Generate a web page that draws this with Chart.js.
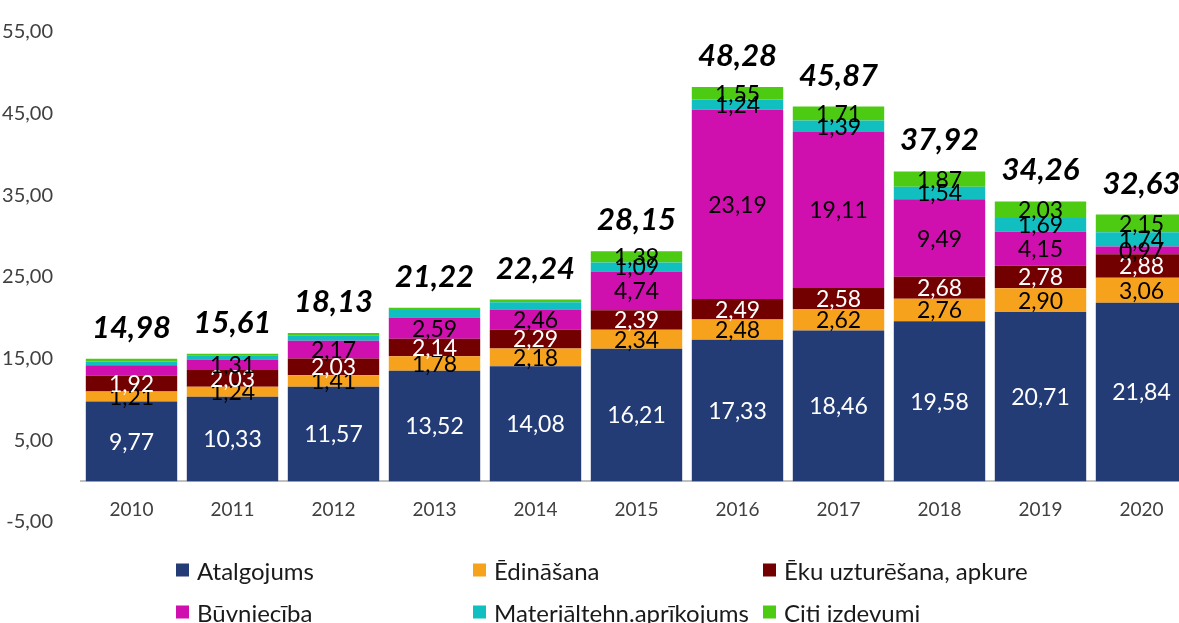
<!DOCTYPE html>
<html>
<head>
<meta charset="utf-8">
<script src="https://cdn.jsdelivr.net/npm/chart.js@4.4.1/dist/chart.umd.min.js"></script>
<style>
  html, body { margin: 0; padding: 0; background: #fff; overflow: hidden; }
  #wrap { position: absolute; left: 0; top: 0; width: 1192px; height: 623px; }
  #legend { position: absolute; left: 0; top: 0; width: 1179px; height: 623px; pointer-events: none;
            font-family: Lato, 'Open Sans', sans-serif; font-size: 24px; color: #1a1a1a; }
  .item { position: absolute; display: flex; align-items: center; white-space: nowrap; transform: translateY(-50%); }
  .box { width: 13px; height: 13px; margin-right: 8px; }
</style>
</head>
<body>
<div id="wrap"><canvas id="myChart"></canvas></div>
<div id="legend"></div>
<script>
// Datos
const years = ['2010', '2011', '2012', '2013', '2014', '2015', '2016', '2017', '2018', '2019', '2020'];
const atalgojums   = [9.77, 10.33, 11.57, 13.52, 14.08, 16.21, 17.33, 18.46, 19.58, 20.71, 21.84];
const edinasana    = [1.21, 1.24, 1.41, 1.78, 2.18, 2.34, 2.48, 2.62, 2.76, 2.90, 3.06];
const ekuUzturesana = [1.92, 2.03, 2.03, 2.14, 2.29, 2.39, 2.49, 2.58, 2.68, 2.78, 2.88];
const buvnieciba   = [1.30, 1.31, 2.17, 2.59, 2.46, 4.74, 23.19, 19.11, 9.49, 4.15, 0.97];
const materialteh  = [0.45, 0.50, 0.62, 0.94, 0.90, 1.09, 1.24, 1.39, 1.54, 1.69, 1.74];
const citi         = [0.33, 0.20, 0.33, 0.25, 0.33, 1.39, 1.55, 1.71, 1.87, 2.03, 2.15];
const totals       = [14.98, 15.61, 18.13, 21.22, 22.24, 28.15, 48.28, 45.87, 37.92, 34.26, 32.63];
const yTicks = [-5, 5, 15, 25, 35, 45, 55];

const seriesNames = ['Atalgojums', 'Ēdināšana', 'Ēku uzturēšana, apkure', 'Būvniecība', 'Materiāltehn.aprīkojums', 'Citi izdevumi'];
const seriesData = [atalgojums, edinasana, ekuUzturesana, buvnieciba, materialteh, citi];
const seriesColors = ['#243c76', '#f7a21c', '#720000', '#cf0fae', '#12bfc0', '#4ccb12'];
const labelColors = ['#ffffff', '#000000', '#ffffff', '#000000', '#000000', '#000000'];
// desde qué año se muestra la etiqueta de cada serie
const labelFrom = [2010, 2010, 2010, 2011, 2015, 2015];

const fmt = v => v.toFixed(2).replace('.', ',');
const FONT = "Lato, 'Open Sans', sans-serif";

// Etiquetas dentro de los segmentos y totales arriba
const valueLabels = {
    id: 'valueLabels',
    afterDatasetsDraw(chart) {
        const ctx = chart.ctx;
        ctx.save();
        ctx.textAlign = 'center';
        ctx.textBaseline = 'middle';
        ctx.font = '23px ' + FONT;
        chart.data.datasets.forEach((ds, di) => {
            const meta = chart.getDatasetMeta(di);
            meta.data.forEach((bar, i) => {
                if (+years[i] < labelFrom[di]) return;
                ctx.fillStyle = labelColors[di];
                ctx.fillText(fmt(ds.data[i]), bar.x, (bar.y + bar.base) / 2 + 1);
            });
        });
        const top = chart.getDatasetMeta(chart.data.datasets.length - 1);
        ctx.font = 'italic bold 31px ' + FONT;
        ctx.fillStyle = '#000';
        top.data.forEach((bar, i) => {
            ctx.fillText(fmt(totals[i]), bar.x, bar.y - 31);
        });
        ctx.restore();
    }
};

const ctx = document.getElementById('myChart').getContext('2d');
const myChart = new Chart(ctx, {
    type: 'bar',
    data: {
        labels: years,
        datasets: seriesNames.map((name, i) => ({
            label: name,
            data: seriesData[i],
            backgroundColor: seriesColors[i],
            borderWidth: 0,
            categoryPercentage: 1,
            barPercentage: 0.905
        }))
    },
    options: {
        responsive: true,
        maintainAspectRatio: false,
        animation: false,
        layout: { padding: { top: 10, bottom: 101, left: 0, right: 0 } },
        plugins: {
            legend: { display: false },
            tooltip: { enabled: false }
        },
        scales: {
            x: {
                stacked: true,
                position: { y: 0 },
                grid: { display: false },
                border: { display: true, color: '#c0c0c0', width: 2 },
                ticks: {
                    color: '#404040',
                    padding: 9,
                    font: { size: 19, family: FONT }
                },
                afterFit(scale) { scale.height = 30; }
            },
            y: {
                stacked: true,
                min: -5,
                max: 55,
                afterBuildTicks(scale) { scale.ticks = yTicks.map(v => ({ value: v })); },
                grid: { display: false },
                border: { display: false },
                ticks: {
                    color: '#404040',
                    padding: 20,
                    font: { size: 20, family: FONT },
                    callback: v => fmt(v)
                },
                afterFit(scale) { scale.width = 81; }
            }
        }
    },
    plugins: [valueLabels]
});

// Leyenda en tres columnas
const legendPos = [[176, 570], [473, 570], [763, 570], [176, 612], [473, 612], [763, 612]];
document.getElementById('legend').innerHTML = seriesNames.map((name, i) =>
    `<div class="item" style="left:${legendPos[i][0]}px; top:${legendPos[i][1]}px;">` +
    `<span class="box" style="background:${seriesColors[i]}"></span>${name}</div>`
).join('');
</script>
</body>
</html>
